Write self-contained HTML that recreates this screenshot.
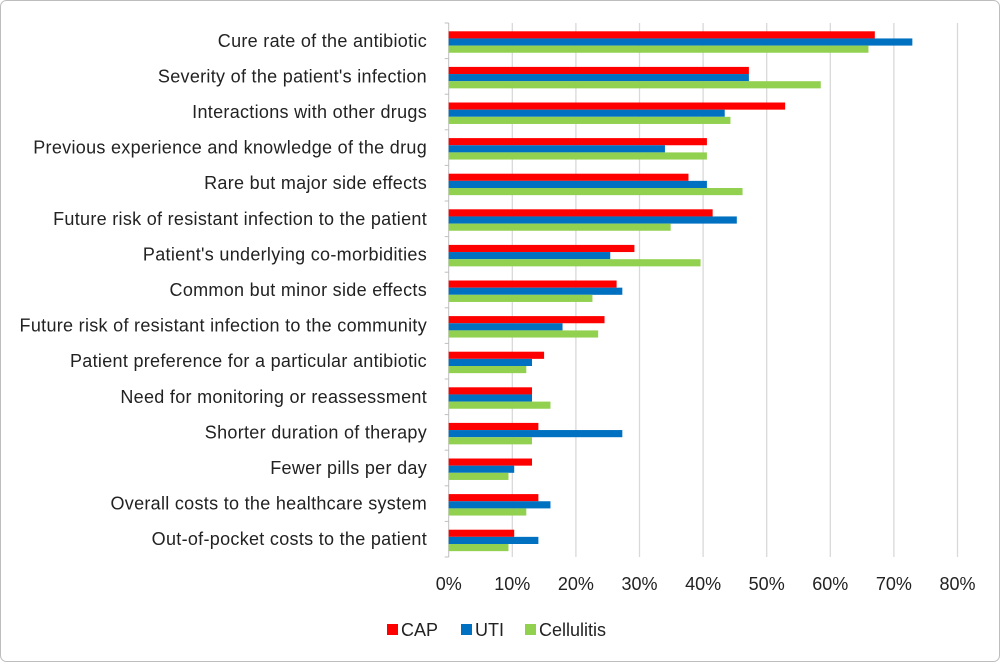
<!DOCTYPE html>
<html><head><meta charset="utf-8"><style>
body{margin:0;background:#fff;}
svg{display:block;font-family:"Liberation Sans",Arial,sans-serif;}
</style></head><body>
<svg id="chart" width="1000" height="662" viewBox="0 0 1000 662">
<rect x="0.5" y="0.5" width="999" height="661" rx="6" fill="#fff" stroke="#bdbdbd"/>
<g id="grid"></g><g id="bars"></g><g id="labels"></g><g id="legend"></g>
</svg>
<script>
const categories=["Cure rate of the antibiotic","Severity of the patient's infection","Interactions with other drugs","Previous experience and knowledge of the drug","Rare but major side effects","Future risk of resistant infection to the patient","Patient's underlying co-morbidities","Common but minor side effects","Future risk of resistant infection to the community","Patient preference for a particular antibiotic","Need for monitoring or reassessment","Shorter duration of therapy","Fewer pills per day","Overall costs to the healthcare system","Out-of-pocket costs to the patient"];
const capValues=[67,47.2,52.9,40.6,37.7,41.5,29.2,26.4,24.5,15.0,13.1,14.1,13.1,14.1,10.3];
const utiValues=[72.9,47.2,43.4,34.0,40.6,45.3,25.4,27.3,17.9,13.1,13.1,27.3,10.3,16.0,14.1];
const cellulitisValues=[66,58.5,44.3,40.6,46.2,34.9,39.6,22.6,23.5,12.2,16.0,13.1,9.4,12.2,9.4];
const seriesNames=["CAP","UTI","Cellulitis"];
const tickValues=[0,10,20,30,40,50,60,70,80];
const tickLabels=["0%","10%","20%","30%","40%","50%","60%","70%","80%"];

const NS="http://www.w3.org/2000/svg";
const colors=["#ff0000","#0070c0","#92d050"];
const x0=448.7,pxPer=6.36,plotTop=23,band=35.6;
const xs=v=>x0+v*pxPer;
const yb=i=>plotTop+i*band;
function mk(tag,attrs,parent){const e=document.createElementNS(NS,tag);for(const k in attrs)e.setAttribute(k,attrs[k]);parent.appendChild(e);return e;}
const grid=document.getElementById('grid'),bars=document.getElementById('bars'),labels=document.getElementById('labels'),legend=document.getElementById('legend');
const plotBottom=yb(categories.length);
tickValues.forEach((t,i)=>{
  if(i>0){const l=mk('line',{x1:xs(t),x2:xs(t),y1:plotTop,y2:plotBottom,stroke:'#d9d9d9','stroke-width':1.3},grid);
  
  }
  const tx=mk('text',{x:xs(t),y:590,'text-anchor':'middle','font-size':18,fill:'#222'},labels);
  tx.textContent=tickLabels[i];
  
  
});
const ax=mk('line',{x1:x0,x2:x0,y1:plotTop,y2:plotBottom,stroke:'#bfbfbf','stroke-width':1},grid);


for(let i=0;i<=categories.length;i++){const tk=mk('line',{x1:x0-4,x2:x0,y1:yb(i),y2:yb(i),stroke:'#bfbfbf'},grid);

}
const series=[capValues,utiValues,cellulitisValues];
categories.forEach((c,i)=>{
  series.forEach((vals,s)=>{
    const r=mk('rect',{x:x0,y:yb(i)+8.3+s*7.15,width:xs(vals[i])-x0,height:7.15,fill:colors[s]},bars);
    
    
  });
  const t=mk('text',{x:427,y:yb(i)+band/2+6,'text-anchor':'end','font-size':18,'letter-spacing':0.3,fill:'#222'},labels);
  t.textContent=c;
  
  
});
const lx=[387,461,525];
seriesNames.forEach((n,s)=>{
  const r=mk('rect',{x:lx[s],y:624,width:11,height:11,fill:colors[s]},legend);
  
  
  const t=mk('text',{x:lx[s]+14,y:636,'font-size':18,fill:'#222'},legend);
  t.textContent=n;
  
  
});
</script>
</body></html>
